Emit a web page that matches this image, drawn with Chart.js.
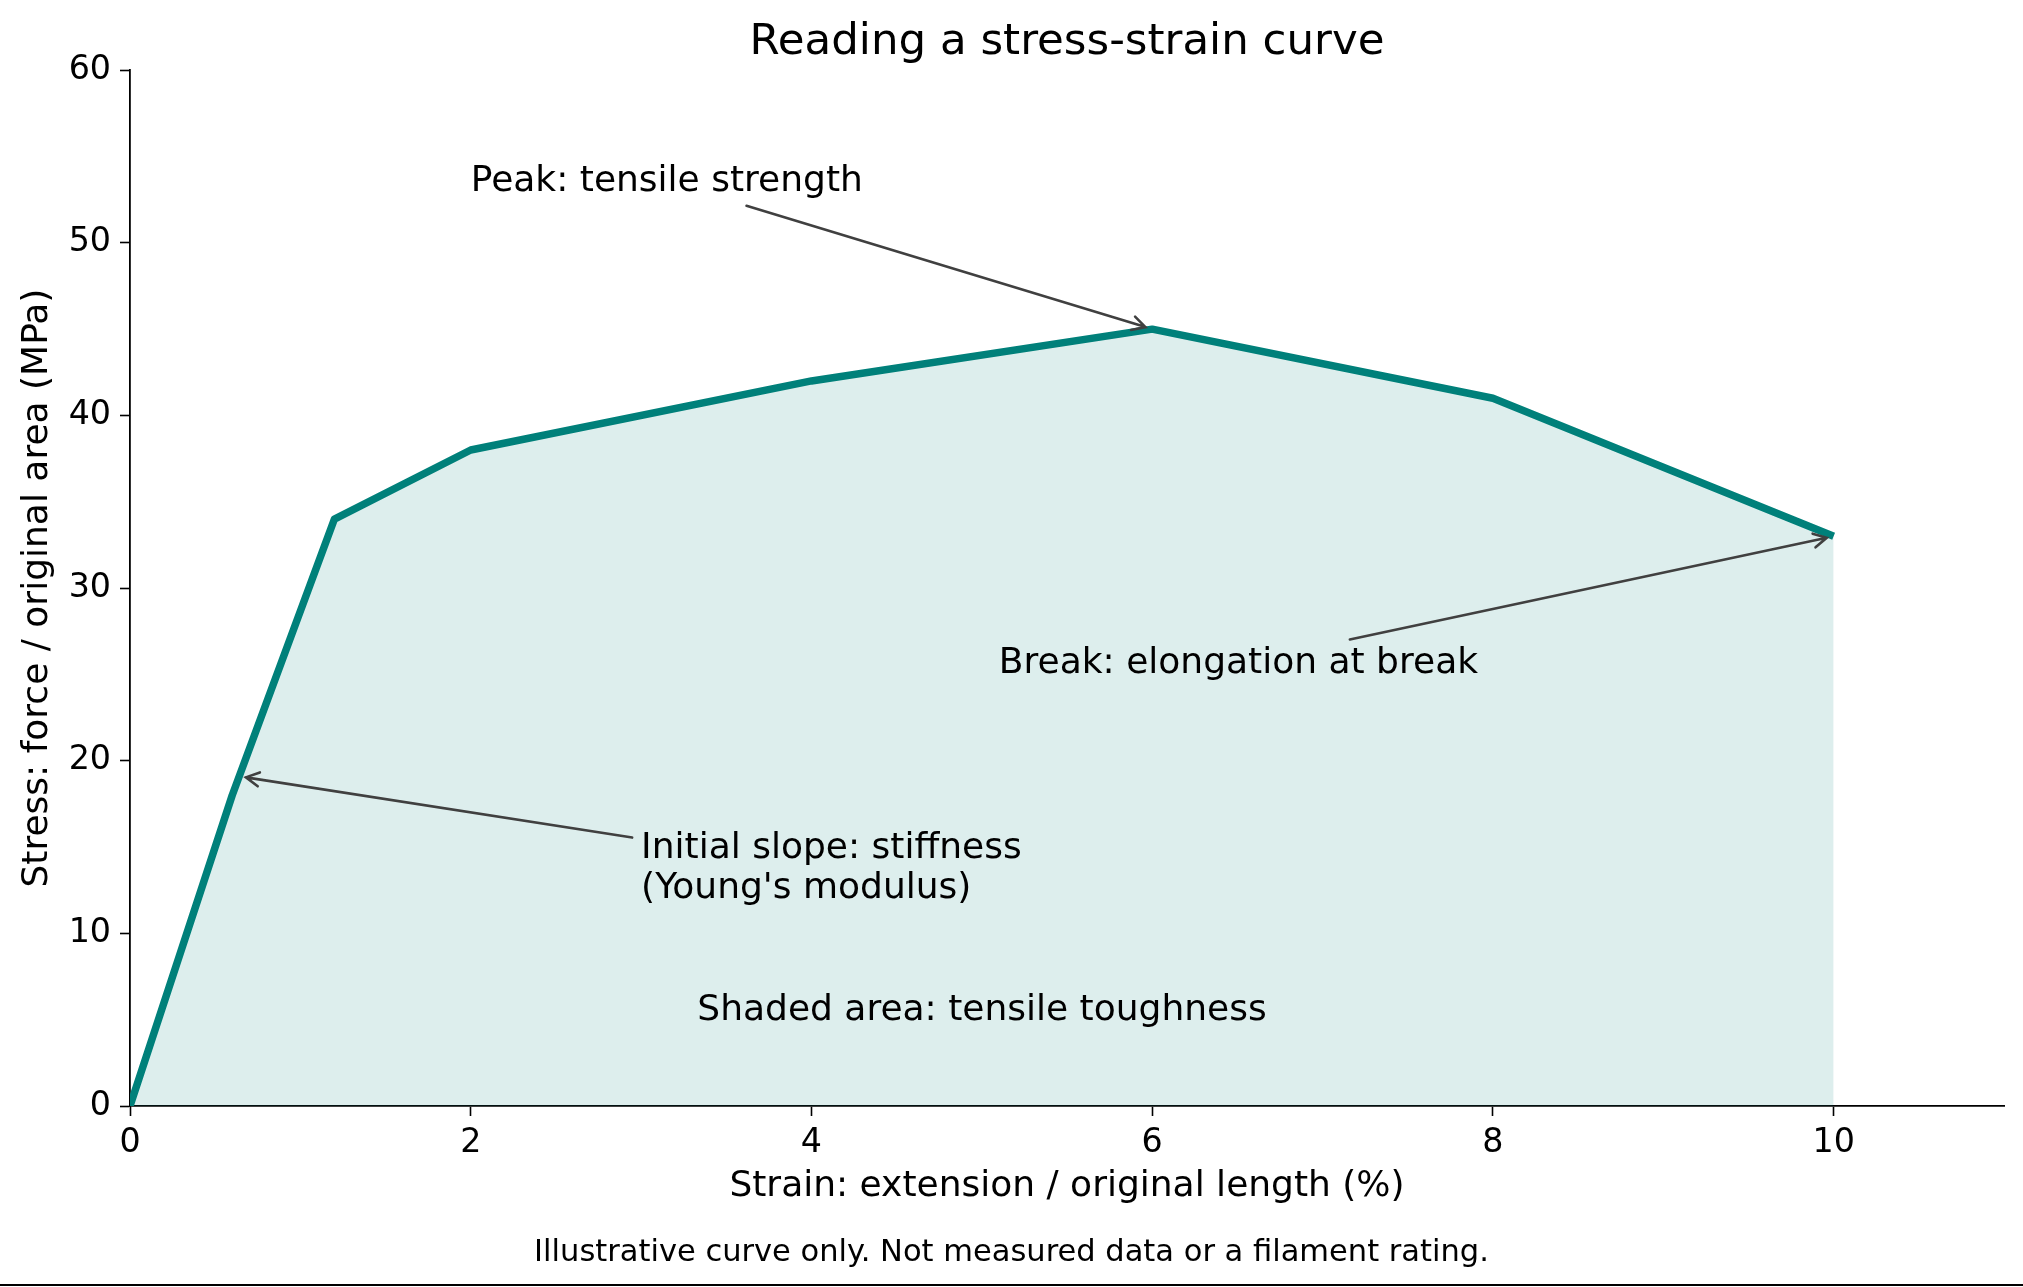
<!DOCTYPE html>
<html>
<head>
<meta charset="utf-8">
<script src="https://cdn.jsdelivr.net/npm/chart.js@4.4.1/dist/chart.umd.min.js"></script>
<style>
  html, body { margin: 0; padding: 0; background: #fff; }
  #wrap { position: relative; width: 2023px; height: 1287px; }
  #edge { position: absolute; left: 0; top: 1284px; width: 2023px; height: 2px; background: #000; }
</style>
</head>
<body>
<div id="wrap">
  <canvas id="curve"></canvas>
  <div id="edge"></div>
</div>
<script>
// ── DATA ───────────────────────────────────────────────────────
const strain = [0, 0.6, 1.2, 2, 4, 6, 8, 10];
const stress = [0, 18, 34, 38, 42, 45, 41, 33];
const xTicks = [0, 2, 4, 6, 8, 10];
const yTicks = [0, 10, 20, 30, 40, 50, 60];

// annotations: text block (left x, centre y) and arrow target, in data units
const noteLines = [
  ['Peak: tensile strength'],
  ['Break: elongation at break'],
  ['Initial slope: stiffness', "(Young's modulus)"],
  ['Shaded area: tensile toughness']
];
const noteX = [2.0, 5.1, 3.0, 3.33];
const noteY = [53.55, 25.65, 13.75, 5.55];
const arrowX = [6, 10, 0.64, null];
const arrowY = [45, 33, 19.1, null];

const FONT = '"DejaVu Sans", sans-serif';
const TEAL = '#00807a';
const LINE_GAP = 40;
const FOOTNOTE = 'Illustrative curve only. Not measured data or a filament rating.';

// ── ANNOTATIONS ────────────────────────────────────────────────
const notesPlugin = {
  id: 'notes',
  beforeDraw(chart) {
    // title over the plot area, footnote over the whole figure
    const area = chart.chartArea;
    chart.titleBlock.left = area.left;
    chart.titleBlock.right = area.right;
    chart.titleBlock.width = area.right - area.left;
    const sub = chart.boxes.find(b => b.options && b.options.text === FOOTNOTE);
    if (sub) { sub.left = 0; sub.right = chart.width; sub.width = chart.width; }
  },
  afterDatasetsDraw(chart) {
    const { ctx, scales: { x, y } } = chart;
    ctx.save();
    ctx.font = '36px ' + FONT;
    ctx.textAlign = 'left';
    ctx.textBaseline = 'middle';
    noteLines.forEach((lines, i) => {
      const left = x.getPixelForValue(noteX[i]);
      const cy = y.getPixelForValue(noteY[i]);
      const h = lines.length * LINE_GAP;
      const w = Math.max(...lines.map(t => ctx.measureText(t).width));
      ctx.fillStyle = '#000';
      lines.forEach((t, j) => ctx.fillText(t, left, cy - h / 2 + LINE_GAP * (j + 0.5)));
      if (arrowX[i] == null) return;

      const cx = left + w / 2;
      const tx = x.getPixelForValue(arrowX[i]);
      const ty = y.getPixelForValue(arrowY[i]);
      const dx = tx - cx, dy = ty - cy;
      const len = Math.hypot(dx, dy);
      const ux = dx / len, uy = dy / len;
      const s = Math.min((w / 2 + 3) / Math.abs(dx || 1e-9), (h / 2 + 2.5) / Math.abs(dy || 1e-9));
      const sx = cx + dx * s + ux * 6, sy = cy + dy * s + uy * 6;
      const ex = tx - ux * 7, ey = ty - uy * 7;

      ctx.strokeStyle = '#404040';
      ctx.lineWidth = 2.6;
      ctx.lineCap = 'round';
      ctx.beginPath();
      ctx.moveTo(sx, sy);
      ctx.lineTo(ex, ey);
      // open "->" head
      const L = 13, W = 7;
      ctx.moveTo(ex - ux * L - uy * W, ey - uy * L + ux * W);
      ctx.lineTo(ex, ey);
      ctx.lineTo(ex - ux * L + uy * W, ey - uy * L - ux * W);
      ctx.stroke();
    });
    ctx.restore();
  }
};

// ── CHART ──────────────────────────────────────────────────────
const ctx = document.getElementById('curve').getContext('2d');
new Chart(ctx, {
  type: 'line',
  data: {
    datasets: [{
      data: strain.map((v, i) => ({ x: v, y: stress[i] })),
      borderColor: TEAL,
      backgroundColor: 'rgba(0,128,122,0.135)',
      borderWidth: 7.5,
      borderJoinStyle: 'round',
      pointRadius: 0,
      tension: 0,
      fill: 'origin'
    }]
  },
  options: {
    responsive: true,
    maintainAspectRatio: false,
    devicePixelRatio: 1,
    animation: false,
    layout: { padding: { left: 0, right: 19, top: 0, bottom: 0 } },
    plugins: {
      legend: { display: false },
      tooltip: { enabled: false },
      title: {
        display: true,
        text: 'Reading a stress-strain curve',
        color: '#000',
        font: { family: FONT, size: 43.5, weight: 'normal' },
        padding: { top: 17, bottom: 1 }
      },
      subtitle: {
        display: true,
        position: 'bottom',
        text: FOOTNOTE,
        color: '#000',
        font: { family: FONT, size: 30.5, weight: 'normal' },
        padding: { top: 10.6, bottom: 16.1 }
      }
    },
    scales: {
      x: {
        type: 'linear',
        min: 0, max: 11,
        afterBuildTicks: s => { s.ticks = xTicks.map(v => ({ value: v })); },
        afterFit: s => { s.height = 117.7; },
        grid: { display: true, drawOnChartArea: false, tickLength: 10, tickColor: '#000', tickWidth: 1.6 },
        border: { display: true, color: '#000', width: 1.8 },
        ticks: { color: '#000', padding: 7.6, maxRotation: 0, font: { family: FONT, size: 33.3 } },
        title: {
          display: true,
          text: 'Strain: extension / original length (%)',
          color: '#000',
          font: { family: FONT, size: 36 },
          padding: { top: 0, bottom: 15.4 }
        }
      },
      y: {
        type: 'linear',
        min: 0, max: 60,
        afterBuildTicks: s => { s.ticks = yTicks.map(v => ({ value: v })); },
        afterFit: s => { s.width = 130; },
        grid: { display: true, drawOnChartArea: false, tickLength: 10, tickColor: '#000', tickWidth: 1.6 },
        border: { display: true, color: '#000', width: 1.8 },
        ticks: { color: '#000', padding: 9, font: { family: FONT, size: 33.3 } },
        title: {
          display: true,
          text: 'Stress: force / original area (MPa)',
          color: '#000',
          font: { family: FONT, size: 36 },
          padding: { top: 16, bottom: 0 }
        }
      }
    }
  },
  plugins: [notesPlugin]
});
</script>
</body>
</html>
